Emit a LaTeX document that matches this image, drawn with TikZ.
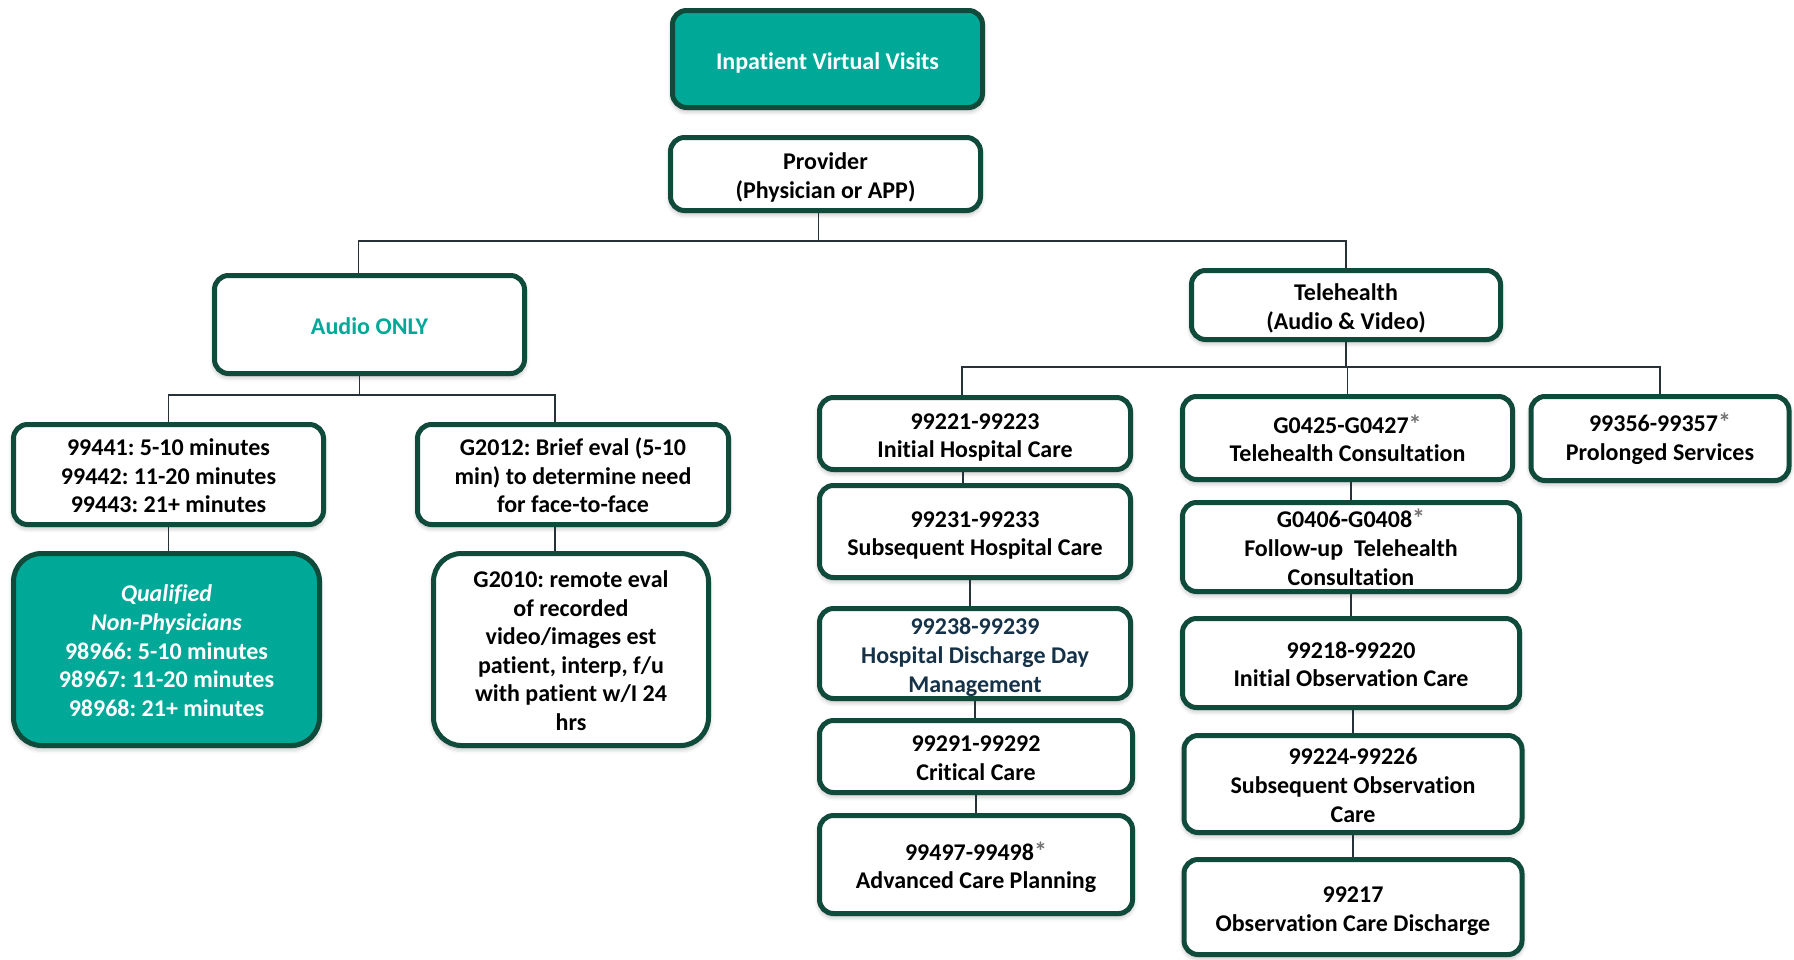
\documentclass[tikz,border=0pt]{standalone}
\usepackage{fontspec}
\setmainfont{Carlito}[Ligatures=NoCommon]
\usetikzlibrary{shadows.blur}
\frenchspacing

\definecolor{tealfill}{RGB}{0,168,152}
\definecolor{edgegreen}{RGB}{16,74,58}
\definecolor{wire}{RGB}{38,50,56}
\definecolor{navytext}{RGB}{22,50,72}
\definecolor{astgray}{RGB}{115,115,115}

% gray footnote star after a code range
\newcommand{\astmark}{{\color{astgray}\fontsize{26}{28.6}\selectfont *}}
% keep the first line at a fixed height so the text block sits evenly in its box
\newcommand{\topline}{\rule{0pt}{1em}}
\newcommand{\toplinelow}{\rule{0pt}{0.8em}}

\tikzset{
  box/.style={draw=edgegreen, line width=5pt, rounded corners=14pt, fill=white,
    align=center, inner sep=0pt, text=black,
    font=\bfseries\fontsize{24}{28.6}\selectfont,
    blur shadow={shadow xshift=0pt, shadow yshift=-3pt, shadow blur radius=5pt, shadow opacity=35}},
  tealbox/.style={box, fill=tealfill, text=white},
  roundbig/.style={rounded corners=28pt},
  conn/.style={draw=wire, line width=1.6pt}
}

\begin{document}
\begin{tikzpicture}[x=1pt,y=-1pt]
\useasboundingbox (0,0) rectangle (1794,959);

% top of the tree
\node[tealbox, minimum width=310pt, minimum height=97pt] (top) at (827.5,59) {\topline Inpatient Virtual Visits};
\node[box, minimum width=310pt, minimum height=73pt] (prov) at (825.5,174) {\topline Provider\\(Physician or APP)};

% two service branches
\node[box, text=tealfill, minimum width=310pt, minimum height=98pt] (audio) at (369.5,324.5) {\toplinelow Audio ONLY};
\node[box, minimum width=309pt, minimum height=69pt] (tele) at (1346,305) {\topline Telehealth\\(Audio \& Video)};

% audio only codes
\node[box, minimum width=310pt, minimum height=100pt] (phone) at (168.5,474.5) {\toplinelow 99441: 5-10 minutes\\99442: 11-20 minutes\\99443: 21+ minutes};
\node[box, minimum width=311pt, minimum height=100pt] (gbrief) at (573,474.5) {\toplinelow G2012: Brief eval (5-10\\min) to determine need\\for face-to-face};
\node[tealbox, roundbig, minimum width=306pt, minimum height=192pt] (qual) at (166.5,649.5) {\toplinelow\textit{Qualified}\\\textit{Non-Physicians}\\98966: 5-10 minutes\\98967: 11-20 minutes\\98968: 21+ minutes};
\node[box, roundbig, minimum width=275pt, minimum height=192pt] (gremote) at (571,649.5) {\toplinelow G2010: remote eval\\of recorded\\video/images est\\patient, interp, f/u\\with patient w/I 24\\hrs};

% hospital care column
\node[box, minimum width=311pt, minimum height=72pt] (hA) at (975,433.5) {\topline 99221-99223\\Initial Hospital Care};
\node[box, minimum width=311pt, minimum height=92pt] (hB) at (975,531.5) {\topline 99231-99233\\Subsequent Hospital Care};
\node[box, text=navytext, minimum width=311pt, minimum height=90pt] (hC) at (975,653.5) {\topline 99238-99239\\Hospital Discharge Day\\Management};
\node[box, minimum width=313pt, minimum height=72pt] (hD) at (976,756.5) {\toplinelow 99291-99292\\Critical Care};
\node[box, minimum width=313pt, minimum height=98pt] (hE) at (976,864.5) {\topline 99497-99498\astmark\\Advanced Care Planning};

% consultation / observation column
\node[box, minimum width=330pt, minimum height=83pt] (tA) at (1347.5,438) {\toplinelow G0425-G0427\astmark\\Telehealth Consultation};
\node[box, minimum width=337pt, minimum height=89pt] (tB) at (1351,547) {\toplinelow G0406-G0408\astmark\\Follow-up\ \ Telehealth\\Consultation};
\node[box, minimum width=337pt, minimum height=89pt] (tC) at (1351,663) {\toplinelow 99218-99220\\Initial Observation Care};
\node[box, minimum width=338pt, minimum height=97pt] (tD) at (1353,784) {\toplinelow 99224-99226\\Subsequent Observation\\Care};
\node[box, minimum width=338pt, minimum height=95pt] (tE) at (1353,907) {\topline 99217\\Observation Care Discharge};

% prolonged services
\node[box, minimum width=258pt, minimum height=84pt] (prol) at (1660,438.5) {\toplinelow 99356-99357\astmark\\Prolonged Services};

% bus levels
\coordinate (busA) at (0,241);
\coordinate (busB) at (0,395);
\coordinate (busC) at (0,367);

% provider to branches
\path ([xshift=-7pt]prov.south) coordinate (pS);
\path ([xshift=-11pt]audio.north) coordinate (aN);
\draw[conn] (pS) -- (pS |- busA);
\draw[conn] (aN) -- (aN |- busA) -- (tele.north |- busA) -- (tele.north);

% audio only tree
\path ([xshift=-10pt]audio.south) coordinate (aS);
\path ([xshift=-18pt]gbrief.north) coordinate (gN);
\path ([xshift=-18pt]gbrief.south) coordinate (gS);
\draw[conn] (aS) -- (aS |- busB);
\draw[conn] (phone.north) -- (phone.north |- busB) -- (gN |- busB) -- (gN);
\draw[conn] (phone.south) -- (phone.south |- qual.north);
\draw[conn] (gS) -- (gS |- gremote.north);

% telehealth tree
\path ([xshift=-13pt]hA.north) coordinate (hN);
\draw[conn] (tele.south) -- (tele.south |- busC);
\draw[conn] (hN) -- (hN |- busC) -- (prol.north |- busC) -- (prol.north);
\draw[conn] (tA.north |- busC) -- (tA.north);

% hospital care chain
\path ([xshift=-12pt]hA.south) coordinate (h1);
\path ([xshift=-5pt]hB.south) coordinate (h2);
\draw[conn] (h1) -- (h1 |- hB.north);
\draw[conn] (h2) -- (h2 |- hC.north);
\draw[conn] (hC.south) -- (hC.south |- hD.north);
\draw[conn] (hD.south) -- (hD.south |- hE.north);

% observation chain
\draw[conn] (tB.north |- tA.south) -- (tB.north);
\draw[conn] (tC.north |- tB.south) -- (tC.north);
\draw[conn] (tD.north |- tC.south) -- (tD.north);
\draw[conn] (tE.north |- tD.south) -- (tE.north);
\end{tikzpicture}
\end{document}
